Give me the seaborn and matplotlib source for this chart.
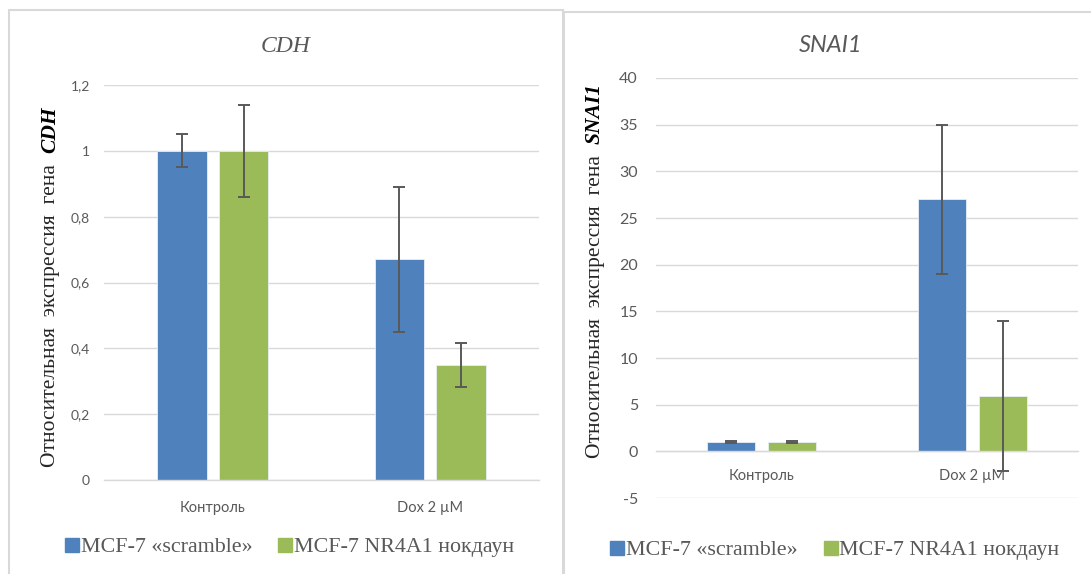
import matplotlib
matplotlib.use("Agg")
import matplotlib.pyplot as plt
import seaborn as sns
import pandas as pd
from matplotlib.patches import Rectangle
from matplotlib.lines import Line2D
from matplotlib.ticker import FuncFormatter, MultipleLocator

# ---- data ----
categories = ["Контроль", "Dox 2 µM"]
groups = ["MCF-7 «scramble»", "MCF-7 NR4A1 нокдаун"]

cdh_scramble = [1.0, 0.67]
cdh_scramble_err = [0.05, 0.22]
cdh_knockdown = [1.0, 0.35]
cdh_knockdown_err = [0.14, 0.067]

snai_scramble = [1.0, 27.0]
snai_scramble_err = [0.12, 8.0]
snai_knockdown = [1.0, 5.9]
snai_knockdown_err = [0.12, 8.05]

BLUE = "#4F81BD"
GREEN = "#9BBB59"
GRID = "#D9D9D9"
TXT = "#595959"

sns.set_theme(style="white")
plt.rcParams["font.family"] = ["Lato", "DejaVu Sans"]

W, H = 1091, 574
fig = plt.figure(figsize=(W / 100, H / 100), dpi=100)


def fx(px):
    return px / W


def fy(py):
    return 1 - py / H


def make_df(s, se, k, ke):
    rows = []
    for i, c in enumerate(categories):
        rows.append((c, groups[0], s[i], se[i]))
        rows.append((c, groups[1], k[i], ke[i]))
    return pd.DataFrame(rows, columns=["cat", "grp", "val", "err"])


def draw_panel(ax, df, ylim, step, ypad, ysize, xpad, xsize, width, gap):
    sns.barplot(data=df, x="cat", y="val", hue="grp", order=categories,
                hue_order=groups, palette=[BLUE, GREEN], saturation=1,
                width=width, gap=gap, errorbar=None, ax=ax, legend=False,
                edgecolor="#E8EEF6", linewidth=0.6, zorder=2)
    # error bars placed at bar centres reported by the library
    for p in ax.patches:
        xc = p.get_x() + p.get_width() / 2
        h = p.get_height()
        ci = int(round(xc))
        gi = 0 if xc < ci else 1
        row = df[(df["cat"] == categories[ci]) & (df["grp"] == groups[gi])].iloc[0]
        ax.errorbar(xc, h, yerr=row["err"], fmt="none", ecolor=TXT,
                    elinewidth=1.4, capsize=4.3, capthick=1.4, zorder=3)
    ax.set_ylim(*ylim)
    ax.set_xlim(-0.5, 1.5)
    ax.yaxis.set_major_locator(MultipleLocator(step))
    ax.yaxis.set_major_formatter(
        FuncFormatter(lambda v, _: f"{round(v, 6):g}".replace(".", ",")))
    ax.grid(axis="y", color=GRID, linewidth=1.0, zorder=0)
    ax.set_axisbelow(True)
    for s in ["top", "right", "left"]:
        ax.spines[s].set_visible(False)
    ax.spines["bottom"].set_position(("data", 0))
    ax.spines["bottom"].set_color(GRID)
    ax.spines["bottom"].set_linewidth(1.0)
    ax.tick_params(axis="y", length=0, pad=ypad, labelsize=ysize, labelcolor=TXT)
    ax.tick_params(axis="x", length=0, pad=xpad, labelsize=xsize, labelcolor=TXT)
    ax.set_xlabel("")
    ax.set_ylabel("")


# left panel
ax1 = fig.add_axes([fx(104), fy(480), fx(539 - 104), (480 - 85) / H])
draw_panel(ax1, make_df(cdh_scramble, cdh_scramble_err, cdh_knockdown, cdh_knockdown_err),
           (0, 1.2), 0.2, 10, 10, 15, 10.5, 0.566, 0.2)

# right panel
ax2 = fig.add_axes([fx(656), fy(498), fx(1078 - 656), (498 - 78) / H])
draw_panel(ax2, make_df(snai_scramble, snai_scramble_err, snai_knockdown, snai_knockdown_err),
           (-5, 40), 5, 13, 11.5, 13, 10.5, 0.574, 0.21)

# panel frames
fig.add_artist(Rectangle((fx(9), fy(590)), fx(563 - 9), (590 - 10) / H,
                         transform=fig.transFigure, fill=False,
                         edgecolor=GRID, linewidth=1.5))
fig.add_artist(Rectangle((fx(564), fy(590)), fx(1110 - 564), (590 - 12) / H,
                         transform=fig.transFigure, fill=False,
                         edgecolor=GRID, linewidth=1.5))

# titles
fig.text(fx(286), fy(46), "CDH", ha="center", va="center", fontsize=17,
         family="Liberation Serif", style="italic", color=TXT)
fig.text(fx(831), fy(46), "SNAI1", ha="center", va="center", fontsize=17,
         family="Lato", style="italic", color=TXT)

# y labels with bold italic gene name
renderer = fig.canvas.get_renderer()


def ylabel(xpx, ybot_px, gene):
    t1 = fig.text(fx(xpx), fy(ybot_px), "Относительная  экспрессия  гена  ",
                  rotation=90, rotation_mode="anchor", ha="left", va="baseline",
                  fontsize=15.5, family="Liberation Serif", color="#262626")
    bb = t1.get_window_extent(renderer=renderer)
    fig.text(fx(xpx), fy(ybot_px) + bb.height / H, gene,
             rotation=90, rotation_mode="anchor", ha="left", va="baseline",
             fontsize=15.5, family="Liberation Serif", weight="bold",
             style="italic", color="#000000")


ylabel(55, 467, "CDH")
ylabel(600, 458, "SNAI1")

# legends
handles = [Line2D([], [], marker="s", linestyle="none", markersize=9.5,
                  markerfacecolor=c, markeredgecolor=c) for c in (BLUE, GREEN)]
for cx, cy in ((290, 547), (835, 550)):
    fig.legend(handles, groups, loc="center", ncol=2,
               bbox_to_anchor=(fx(cx), fy(cy)), frameon=False,
               prop={"family": "Liberation Serif", "size": 15.8},
               labelcolor=TXT, handletextpad=0.1, columnspacing=1.2,
               handlelength=0.6, borderaxespad=0, borderpad=0)

fig.savefig("out.png", dpi=100)
